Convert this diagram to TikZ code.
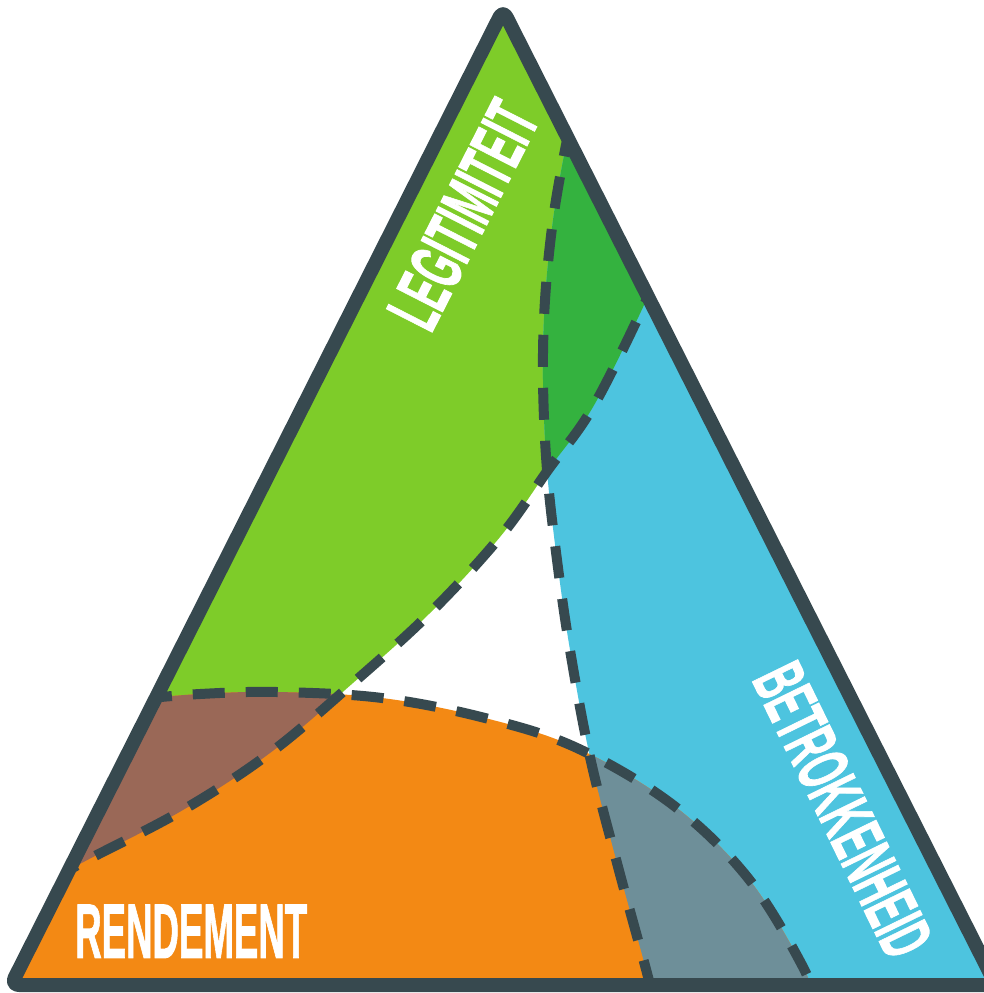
\documentclass[tikz,border=0pt]{standalone}
\usepackage{fontspec}
\setmainfont{Liberation Sans}
\newfontfamily\lblfont{Liberation Sans}[FakeBold=1.5]
\usepackage{graphicx}
\definecolor{cGreen}{HTML}{7ECC29}
\definecolor{cDkGreen}{HTML}{34B23F}
\definecolor{cBlue}{HTML}{4DC4DF}
\definecolor{cOrange}{HTML}{F38914}
\definecolor{cBrown}{HTML}{9A6857}
\definecolor{cGrayBlue}{HTML}{6E8F99}
\definecolor{cLine}{HTML}{37494F}
\tikzset{
  dashline/.style={draw=cLine, line width=10pt, dash pattern=on 32pt off 21pt},
  outline/.style={draw=cLine, line width=14pt, rounded corners=8pt, line join=round},
  label/.style={text=white, inner sep=0pt, font=\lblfont\bfseries}
}
\def\curveA{plot[smooth,tension=0.6] coordinates {(571,125) (565,150) (553,220) (545,300) (543,380) (547,470) (557,560) (570,650) (590,757) (617,863) (647,973) (653,1000)}}
\def\curveB{plot[smooth,tension=0.6] coordinates {(656,273) (645,303) (593,407) (548,470) (500,537) (430,613) (353,683) (270,753) (183,810) (93,857) (50,880)}}
\def\curveC{plot[smooth,tension=0.6] coordinates {(140,699) (200,694) (277,692) (382,698) (485,718) (577,748) (673,805) (748,878) (803,967) (815,1005)}}
\def\regA{\curveA -- (1100,1000) -- (1100,-20) -- (571,-20) -- cycle}
\def\regB{\curveB -- (-20,880) -- (-20,-20) -- (700,-20) -- (700,273) -- cycle}
\def\regC{\curveC -- (-20,1005) -- cycle}
\begin{document}
\begin{tikzpicture}[x=1pt,y=-1pt]
\useasboundingbox (0,0) rectangle (984,993);
\clip (0,0) rectangle (984,993);
\coordinate (apex) at (503,10);
\coordinate (bl) at (11,985);
\coordinate (br) at (996,985);
\fill[white, rounded corners=8pt] (apex) -- (bl) -- (br) -- cycle;
\begin{scope}
  \clip[rounded corners=8pt] (apex) -- (bl) -- (br) -- cycle;
  \fill[cGreen] \regB;
  \fill[cBlue] \regA;
  \fill[cOrange] \regC;
  \begin{scope}
    \clip \regB;
    \fill[cDkGreen] \regA;
  \end{scope}
  \begin{scope}
    \clip \regB;
    \fill[cBrown] \regC;
  \end{scope}
  \begin{scope}
    \clip \regA;
    \fill[cGrayBlue] \regC;
  \end{scope}
  \draw[dashline] \curveA;
  \draw[dashline] \curveB;
  \draw[dashline] \curveC;
\end{scope}
\draw[outline] (apex) -- (bl) -- (br) -- cycle;
\node[label, rotate=63] (legit) at (463,215) {\resizebox{242pt}{52pt}{LEGITIMITEIT}};
\node[label, rotate=-64] (betrok) at (843,810) {\resizebox{315pt}{51pt}{BETROKKENHEID}};
\node[label, anchor=south west] (rend) at (75,958) {\resizebox{232pt}{53pt}{RENDEMENT}};
\end{tikzpicture}
\end{document}
